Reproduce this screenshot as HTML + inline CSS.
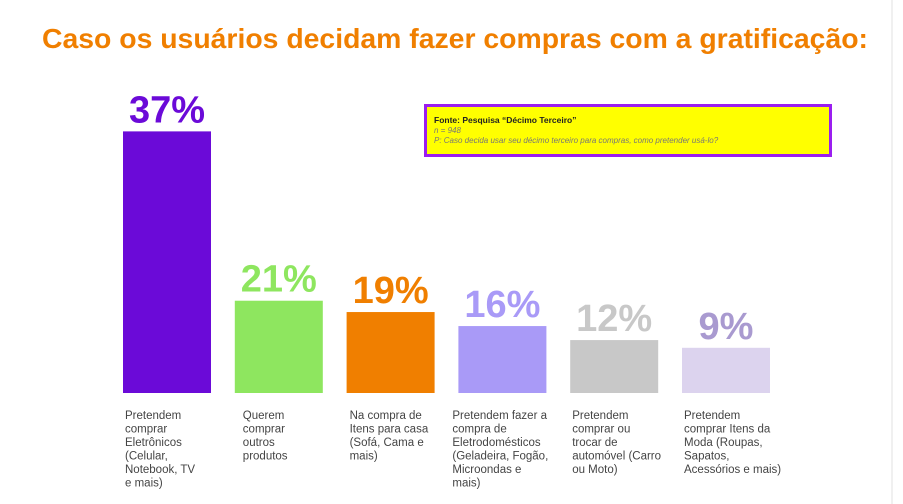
<!DOCTYPE html>
<html><head><meta charset="utf-8"><style>
html,body{margin:0;padding:0;background:#fff;}
svg{display:block;font-family:"Liberation Sans",sans-serif;}
</style></head><body>
<svg id="chart" width="903" height="504" viewBox="0 0 903 504">
<rect x="0" y="0" width="903" height="504" fill="#fff"/>
<line x1="892" y1="0" x2="892" y2="504" stroke="#e2e2e2" stroke-width="1"/>
<text x="455" y="48" text-anchor="middle" font-size="28" font-weight="bold" fill="#f07f00" textLength="826" lengthAdjust="spacingAndGlyphs">Caso os usuários decidam fazer compras com a gratificação:</text>
<g>
<rect x="425.5" y="105.5" width="405" height="50" fill="#ffff00" stroke="#9a1ef0" stroke-width="3"/>
<text x="434" y="123" font-size="8.5" font-weight="bold" fill="#222">Fonte: Pesquisa “Décimo Terceiro”</text>
<text x="434" y="133" font-size="8" font-style="italic" fill="#777">n = 948</text>
<text x="434" y="143" font-size="8" font-style="italic" fill="#777">P:  Caso decida usar seu décimo terceiro para compras, como pretender usá-lo?</text>
</g>
<g id="bars"></g>
</svg>
<script>
const categories = [
  ["Pretendem","comprar","Eletrônicos","(Celular,","Notebook, TV","e mais)"],
  ["Querem","comprar","outros","produtos"],
  ["Na compra de","Itens para casa","(Sofá, Cama e","mais)"],
  ["Pretendem fazer a","compra de","Eletrodomésticos","(Geladeira, Fogão,","Microondas e","mais)"],
  ["Pretendem","comprar ou","trocar de","automóvel (Carro","ou Moto)"],
  ["Pretendem","comprar Itens da","Moda (Roupas,","Sapatos,","Acessórios e mais)"]
];
const values = [37, 21, 19, 16, 12, 9];
const valueLabels = ["37%", "21%", "19%", "16%", "12%", "9%"];
const barColors = ["#6b0ad8", "#8ee65f", "#f07f00", "#a99af7", "#c8c8c8", "#dcd3ee"];
const labelColors = ["#6b0ad8", "#8ee65f", "#f07f00", "#a99af7", "#c8c8c8", "#a99ad0"];

const NS = "http://www.w3.org/2000/svg";
const baseY = 393, x0 = 123, step = 111.8, barW = 88;
function yScale(v){ return baseY - Math.max(0, 30 + 1.4 * v + 0.00355 * v * v * v); }
function xScale(i){ return x0 + i * step; }
const g = document.getElementById("bars");
values.forEach((v, i) => {
  const x = xScale(i), y = yScale(v);
  const r = document.createElementNS(NS, "rect");
  r.setAttribute("x", x); r.setAttribute("y", y);
  r.setAttribute("width", barW); r.setAttribute("height", baseY - y);
  r.setAttribute("fill", barColors[i]);
  
  
  g.appendChild(r);
  const t = document.createElementNS(NS, "text");
  t.setAttribute("x", x + barW / 2); t.setAttribute("y", y - 9);
  t.setAttribute("text-anchor", "middle");
  t.setAttribute("font-size", "38"); t.setAttribute("font-weight", "bold");
  t.setAttribute("fill", labelColors[i]);
  t.textContent = valueLabels[i];
  
  
  g.appendChild(t);
  const c = document.createElementNS(NS, "text");
  c.setAttribute("font-size", "11.5"); c.setAttribute("fill", "#444");
  
  
  categories[i].forEach((line, j) => {
    const s = document.createElementNS(NS, "tspan");
    s.setAttribute("x", x + (i === 1 ? 8 : i === 2 ? 3 : i === 3 ? -6 : 2));
    s.setAttribute("y", 419 + j * 13.5);
    s.textContent = line;
    c.appendChild(s);
  });
  g.appendChild(c);
});
</script>
</body></html>
